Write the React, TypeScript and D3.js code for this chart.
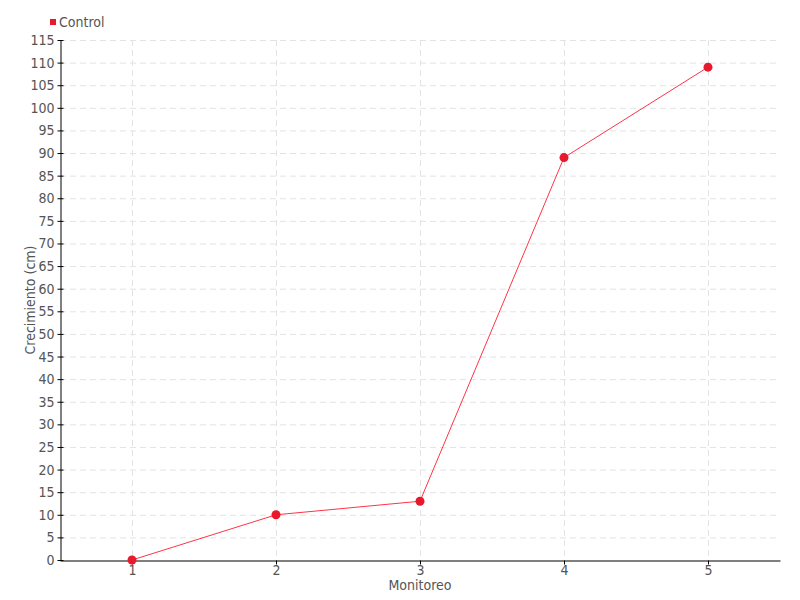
import React, { useEffect, useRef } from 'react';
import * as d3 from 'd3';

const categories = ['1', '2', '3', '4', '5'];
const control = [0, 10, 13, 89, 109];
const yTicks = d3.range(0, 116, 5);

export default function App() {
    const ref = useRef<SVGSVGElement | null>(null);
    useEffect(() => {
        const svg = d3.select(ref.current);
        svg.selectAll('*').remove();
        const width = 800, height = 600;
        const margin = { top: 40, right: 20, bottom: 40, left: 60 };
        const font = '"DejaVu Sans Condensed", "Liberation Sans Narrow", sans-serif';
        const textColor = '#555';

        const x = d3.scalePoint<string>().domain(categories).range([margin.left, width - margin.right]).padding(0.5);
        const y = d3.scaleLinear().domain([0, 115]).range([height - margin.bottom, margin.top]);

        // grid
        const grid = svg.append('g').attr('stroke', '#e3e3e3').attr('stroke-dasharray', '6,4').attr('stroke-width', 1);
        grid.selectAll('line.h').data(yTicks.filter(d => d > 0)).join('line')
            .attr('x1', margin.left).attr('x2', width - margin.right)
            .attr('y1', d => y(d) + 0.5).attr('y2', d => y(d) + 0.5);
        grid.selectAll('line.v').data(categories).join('line')
            .attr('x1', d => x(d)! + 0.5).attr('x2', d => x(d)! + 0.5)
            .attr('y1', margin.top).attr('y2', height - margin.bottom);

        // y axis
        const yAxis = svg.append('g').attr('transform', `translate(${margin.left + 0.5},0)`)
            .call(d3.axisLeft(y).tickValues(yTicks).tickSize(4).tickSizeOuter(0));
        yAxis.selectAll('.tick line').attr('x2', 3).attr('x1', -3).attr('stroke', '#000');
        yAxis.select('.domain').attr('stroke', '#000');
        yAxis.selectAll('.tick text').attr('x', -6).attr('font-family', font).attr('font-size', 14).attr('fill', textColor);

        // x axis
        const xAxis = svg.append('g').attr('transform', `translate(0,${height - margin.bottom + 0.5})`)
            .call(d3.axisBottom(x).tickSize(4).tickSizeOuter(0));
        xAxis.select('.domain').attr('stroke', '#000');
        xAxis.selectAll('.tick line').attr('stroke', '#000');
        xAxis.selectAll('.tick text').attr('y', 5).attr('font-family', font).attr('font-size', 14).attr('fill', textColor);

        // axis titles
        svg.append('text').attr('x', 420).attr('y', 590).attr('text-anchor', 'middle')
            .attr('font-family', font).attr('font-size', 14).attr('fill', textColor).text('Monitoreo');
        svg.append('text').attr('transform', 'translate(35,300) rotate(-90)').attr('text-anchor', 'middle')
            .attr('font-family', font).attr('font-size', 14).attr('fill', textColor).text('Crecimiento (cm)');

        // line
        const line = d3.line<number>().x((_, i) => x(categories[i])!).y(d => y(d));
        svg.append('path').datum(control).attr('d', line).attr('fill', 'none')
            .attr('stroke', '#ff3347').attr('stroke-width', 1);
        svg.selectAll('circle').data(control).join('circle')
            .attr('cx', (_, i) => x(categories[i])!).attr('cy', d => y(d)).attr('r', 4.5)
            .attr('fill', '#e8192c');

        // legend
        svg.append('rect').attr('x', 50).attr('y', 19).attr('width', 6).attr('height', 6).attr('fill', '#e8192c');
        svg.append('text').attr('x', 59).attr('y', 27).attr('font-family', font).attr('font-size', 14)
            .attr('fill', textColor).text('Control');
    }, []);
    return <svg ref={ref} width={800} height={600} style={{ position: 'absolute', left: 0, top: 0 }} />;
}
